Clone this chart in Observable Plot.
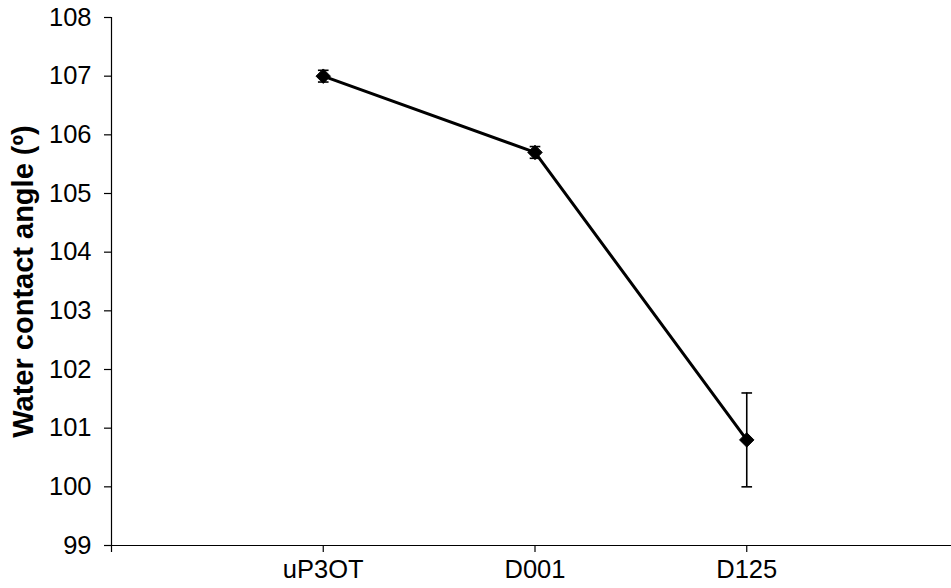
<!DOCTYPE html>
<html>
<head>
<meta charset="utf-8">
<script src="https://cdn.jsdelivr.net/npm/d3@7"></script>
<script src="https://cdn.jsdelivr.net/npm/@observablehq/plot@0.6"></script>
<style>
  html, body { margin: 0; padding: 0; background: #fff; overflow: hidden; }
  #chart svg { display: block; }
</style>
</head>
<body>
<div id="chart"></div>
<script>
// Samples and measured water contact angles (degrees) with their error
const categories = ["uP3OT", "D001", "D125"];
const angles = [107.0, 105.7, 100.8];
const errors = [0.1, 0.1, 0.8];
const yTicks = [99, 100, 101, 102, 103, 104, 105, 106, 107, 108];
const yTitle = "Water contact angle (º)";

const data = categories.map((name, i) => ({
  pos: i + 1,
  name,
  angle: angles[i],
  lo: angles[i] - errors[i],
  hi: angles[i] + errors[i]
}));

// short horizontal bar used as an error-bar cap
const capSymbol = {
  draw(context, size) {
    const w = Math.sqrt(size) / 2;
    context.moveTo(-w, 0);
    context.lineTo(w, 0);
  }
};

const font = "'Liberation Sans', Arial, sans-serif";

const chart = Plot.plot({
  width: 951,
  height: 588,
  marginLeft: 111,
  marginRight: 0,
  marginTop: 17,
  marginBottom: 43,
  style: { fontFamily: font, color: "#000", background: "#fff", overflow: "visible" },
  x: { type: "linear", domain: [0, 4], range: [111, 958] },
  y: { domain: [99, 108], range: [545, 17] },
  marks: [
    // axis lines
    Plot.ruleX([0], { y1: 99, y2: 108, stroke: "#000", strokeWidth: 1.2 }),
    Plot.ruleY([99], { x1: 0, x2: 4, stroke: "#000", strokeWidth: 1.2 }),
    Plot.axisY({
      ticks: yTicks, tickSize: 7, tickPadding: 13, label: null,
      fontSize: 25.5, stroke: "#000", strokeWidth: 1.2
    }),
    Plot.axisX({
      ticks: [0, 1, 2, 3, 4], tickSize: 7, tickPadding: 7, label: null,
      tickFormat: d => categories[d - 1] ?? "",
      fontSize: 25.5, stroke: "#000", strokeWidth: 1.2
    }),
    // error bars
    Plot.ruleX(data, { x: "pos", y1: "lo", y2: "hi", stroke: "#000", strokeWidth: 1.6 }),
    Plot.dot(data, { x: "pos", y: "hi", symbol: capSymbol, r: 6, stroke: "#000", strokeWidth: 1.6 }),
    Plot.dot(data, { x: "pos", y: "lo", symbol: capSymbol, r: 6, stroke: "#000", strokeWidth: 1.6 }),
    // series line and diamond markers
    Plot.line(data, { x: "pos", y: "angle", stroke: "#000", strokeWidth: 3 }),
    Plot.dot(data, { x: "pos", y: "angle", symbol: "diamond2", r: 6.5, fill: "#000", stroke: "#000", strokeWidth: 1 }),
    // y axis title
    Plot.text([yTitle], {
      frameAnchor: "left", textAnchor: "middle", dx: -88, rotate: -90,
      fontSize: 29, fontWeight: "bold", fill: "#000", fontFamily: font
    })
  ]
});

document.getElementById("chart").appendChild(chart);
</script>
</body>
</html>
